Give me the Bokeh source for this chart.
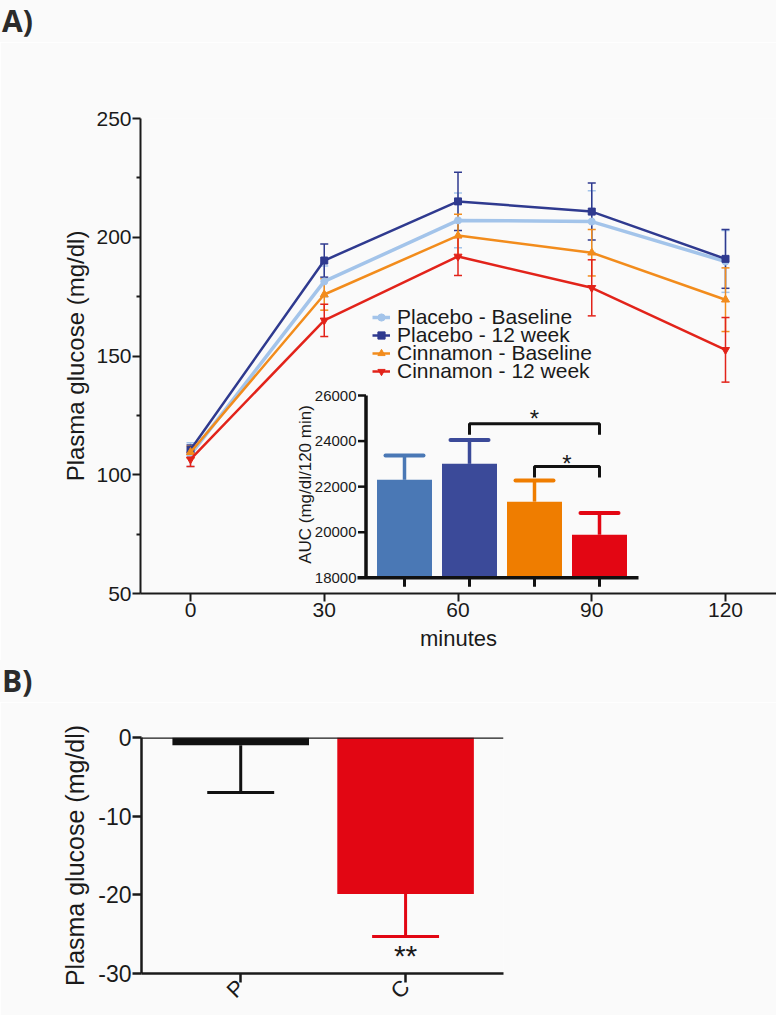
import math
from bokeh.plotting import figure
from bokeh.models import (ColumnDataSource, Range1d, Whisker, TeeHead, Legend,
                          LegendItem, Span, FixedTicker, Div)
from bokeh.layouts import column
from bokeh.core.properties import value
from bokeh.embed import file_html
from bokeh.resources import INLINE

# ---------------- data ----------------
minutes = [0, 30, 60, 90, 120]
series_names = ["Placebo - Baseline", "Placebo - 12 week",
                "Cinnamon - Baseline", "Cinnamon - 12 week"]
placebo_base = [108.5, 181.4, 207.1, 206.6, 189.8]
placebo_base_sem = [5.0, 6.5, 11.5, 13.0, 13.0]
placebo_12 = [110.5, 190.2, 215.1, 210.8, 190.9]
placebo_12_sem = [2.0, 7.0, 12.3, 12.0, 12.4]
cinnamon_base = [109.5, 175.9, 200.7, 193.5, 173.7]
cinnamon_base_sem = [2.5, 6.6, 9.0, 9.8, 13.4]
cinnamon_12 = [106.5, 165.0, 191.9, 178.7, 152.6]
cinnamon_12_sem = [3.0, 6.8, 8.0, 11.8, 13.6]

main_y_ticks = [50, 100, 150, 200, 250]
main_y_minor = [75, 125, 175, 225]

auc_groups = ["Placebo - Baseline", "Placebo - 12 week",
              "Cinnamon - Baseline", "Cinnamon - 12 week"]
auc_mean = [22300, 23000, 21340, 19890]
auc_sem = [1070, 1050, 930, 950]
auc_ticks = [18000, 20000, 22000, 24000, 26000]

change_groups = ["P", "C"]
change_mean = [-1.0, -19.9]
change_sem = [6.0, 5.4]
change_ticks = [-30, -20, -10, 0]

# ---------------- styles ----------------
FONT = "Liberation Sans"
INK = "#1a1a1a"
BG = "#fafafa"
line_colors = ["#a3c4ea", "#2f3a8f", "#f28c1c", "#e2231a"]
markers = ["circle", "square", "triangle", "inverted_triangle"]
marker_sizes = [7, 7, 8, 8]
line_widths = [3.5, 2.5, 2.5, 2.5]
bar_colors = ["#4a78b5", "#3b4a99", "#ef7d00", "#e30613"]
change_colors = ["#111111", "#e20613"]

PANEL_LABEL_STYLE = {"font-family": "Open Sans", "font-weight": "bold",
                     "font-size": "30px", "color": "#2b2b2b", "line-height": "normal",
                     "padding-left": "2px", "background-color": BG}

FIG_W = 776
HEAD_H = 42

# ---------------- panel A geometry (page px) ----------------
A_TOP = HEAD_H
A_H = 660 - HEAD_H
FR_L, FR_R, FR_T, FR_B = 140, 776, 118, 593
X0_PX, X120_PX = 190, 725
pxmin = (X120_PX - X0_PX) / 120.0
xa0 = -(X0_PX - FR_L) / pxmin
xa1 = 120 + (FR_R - X120_PX) / pxmin

divA = Div(text="A)", width=FIG_W, height=HEAD_H, margin=(0, 0, 0, 0),
           styles=PANEL_LABEL_STYLE)

p1 = figure(width=FIG_W, height=A_H, output_backend="svg", toolbar_location=None,
            x_range=Range1d(xa0, xa1), y_range=Range1d(50, 250),
            min_border_left=FR_L, min_border_right=FIG_W - FR_R,
            min_border_top=FR_T - A_TOP, min_border_bottom=A_TOP + A_H - FR_B,
            background_fill_color=BG, border_fill_color=BG)
p1.frame_align = False
p1.outline_line_color = None
p1.grid.visible = False

for ax in (p1.xaxis[0], p1.yaxis[0]):
    ax.axis_line_width = 2
    ax.axis_line_color = INK
    ax.major_tick_line_width = 2
    ax.major_tick_line_color = INK
    ax.minor_tick_line_width = 2
    ax.minor_tick_line_color = INK
    ax.major_tick_in = 0
    ax.major_tick_out = 8
    ax.minor_tick_in = 0
    ax.minor_tick_out = 4
    ax.major_label_text_font = FONT
    ax.major_label_text_font_size = "21px"
    ax.major_label_text_color = INK
    ax.major_label_standoff = 1
    ax.axis_label_text_font = FONT
    ax.axis_label_text_font_style = "normal"
    ax.axis_label_text_color = INK

p1.yaxis.ticker = FixedTicker(ticks=main_y_ticks, minor_ticks=main_y_minor)
p1.xaxis.ticker = FixedTicker(ticks=minutes)
p1.yaxis.axis_label = "Plasma glucose (mg/dl)"
p1.yaxis.axis_label_text_font_size = "24px"
p1.yaxis.axis_label_standoff = 4
p1.xaxis.axis_label = "minutes"
p1.xaxis.axis_label_text_font_size = "22px"
p1.xaxis.axis_label_standoff = 6

all_means = [placebo_base, placebo_12, cinnamon_base, cinnamon_12]
all_sems = [placebo_base_sem, placebo_12_sem, cinnamon_base_sem, cinnamon_12_sem]
legend_rows_px = [316.7, 334.5, 352.7, 371.0]   # legend row centres (page px)
for k, (name, m, s, c, mk, ms, lw) in enumerate(zip(series_names, all_means, all_sems,
                                                    line_colors, markers, marker_sizes,
                                                    line_widths)):
    src = ColumnDataSource(dict(x=minutes, y=m,
                                upper=[a + b for a, b in zip(m, s)],
                                lower=[a - b for a, b in zip(m, s)]))
    w = Whisker(base="x", upper="upper", lower="lower", source=src,
                line_color=c, line_width=1.5,
                upper_head=TeeHead(size=8, line_color=c, line_width=1.5),
                lower_head=TeeHead(size=8, line_color=c, line_width=1.5))
    p1.add_layout(w)
    lr = p1.line("x", "y", source=src, line_color=c, line_width=lw)
    sr = p1.scatter("x", "y", source=src, marker=mk, size=ms,
                    fill_color=c, line_color=c)
    leg = Legend(items=[LegendItem(label=name, renderers=[lr, sr])],
                 location=(372 - FR_L, FR_B - (legend_rows_px[k] + 12)),
                 orientation="vertical", glyph_width=18, glyph_height=18,
                 label_height=18, label_standoff=7, spacing=0, padding=0, margin=0,
                 border_line_color=None, background_fill_alpha=0,
                 label_text_font=FONT, label_text_font_size="21px",
                 label_text_color=INK)
    p1.add_layout(leg)

# ---------------- inset (AUC) drawn in extra ranges ----------------
IN_BAR0 = 404.0      # px of first bar centre
IN_STEP = 65.0       # px between bars
IN_Y18 = 577.3       # px of 18000
IN_Y26 = 395.0       # px of 26000
upp = 8000.0 / (IN_Y18 - IN_Y26)   # AUC units per px
ix0 = (FR_L - IN_BAR0) / IN_STEP
ix1 = (FR_R - IN_BAR0) / IN_STEP
iy0 = 18000 - (FR_B - IN_Y18) * upp
iy1 = 18000 + (IN_Y18 - FR_T) * upp
p1.extra_x_ranges = {"ix": Range1d(ix0, ix1)}
p1.extra_y_ranges = {"iy": Range1d(iy0, iy1)}
R = dict(x_range_name="ix", y_range_name="iy")

idx = list(range(len(auc_groups)))
base_auc = auc_ticks[0]
p1.vbar(x=idx, top=auc_mean, bottom=base_auc, width=55 / IN_STEP,
        fill_color=bar_colors, line_color=None, **R)
p1.segment(x0=idx, y0=auc_mean, x1=idx, y1=[a + b for a, b in zip(auc_mean, auc_sem)],
           line_color=bar_colors, line_width=3.5, **R)
cap = 19 / IN_STEP
p1.segment(x0=[i - cap for i in idx], y0=[a + b for a, b in zip(auc_mean, auc_sem)],
           x1=[i + cap for i in idx], y1=[a + b for a, b in zip(auc_mean, auc_sem)],
           line_color=bar_colors, line_width=4, line_cap="round", **R)

ax_x = (365.5 - IN_BAR0) / IN_STEP
tick_dx = 8 / IN_STEP
p1.segment(x0=[ax_x], y0=[auc_ticks[0]], x1=[ax_x], y1=[auc_ticks[-1]],
           line_color="#111111", line_width=3.5, **R)
p1.segment(x0=[ax_x] * len(auc_ticks), y0=auc_ticks,
           x1=[ax_x - tick_dx] * len(auc_ticks), y1=auc_ticks,
           line_color="#111111", line_width=2.5, **R)
p1.text(x=[ax_x - 9.5 / IN_STEP] * len(auc_ticks), y=auc_ticks,
        text=[str(t) for t in auc_ticks], text_align="right", text_baseline="middle",
        text_font=value(FONT), text_font_size="15px", text_color=INK, **R)
p1.segment(x0=[(357 - IN_BAR0) / IN_STEP], y0=[base_auc], x1=[(638 - IN_BAR0) / IN_STEP],
           y1=[base_auc], line_color="#111111", line_width=3.5, **R)
p1.segment(x0=idx, y0=[base_auc] * 4, x1=idx, y1=[base_auc - 9 * upp] * 4,
           line_color="#111111", line_width=3, **R)
p1.text(x=[(305 - IN_BAR0) / IN_STEP], y=[18000 + (IN_Y18 - 484) * upp],
        text=["AUC (mg/dl/120 min)"], angle=math.pi / 2, text_align="center",
        text_baseline="middle", text_font=value(FONT), text_font_size="17px",
        text_color=INK, **R)

# significance brackets
def bracket(i0, i1, y_top, drop, star_x, star_y):
    p1.line(x=[i0, i0, i1, i1], y=[y_top - drop, y_top, y_top, y_top - drop],
            line_color="#111111", line_width=3, **R)
    p1.text(x=[star_x], y=[star_y], text=["*"], text_align="center",
            text_baseline="top", text_font=value(FONT), text_font_size="24px",
            text_color=INK, **R)

bracket(1, 3, 18000 + (IN_Y18 - 423.3) * upp, 11 * upp, 2.0,
        18000 + (IN_Y18 - 404.6) * upp)
bracket(2, 3, 18000 + (IN_Y18 - 466) * upp, 11 * upp, 2.5,
        18000 + (IN_Y18 - 449.6) * upp)

# ---------------- panel B ----------------
divB = Div(text="B)", width=FIG_W, height=HEAD_H, margin=(0, 0, 0, 0),
           styles=PANEL_LABEL_STYLE)
B_TOP_PAGE = 660 + HEAD_H
B_H = 1015 - B_TOP_PAGE
B_L, B_R, B_T, B_B = 140.7, 503, 736.7, 977.3
P_PX, C_PX = 240.0, 405.0
ppu = C_PX - P_PX
bx0 = -(P_PX - B_L) / ppu
bx1 = 1 + (B_R - C_PX) / ppu

p2 = figure(width=FIG_W, height=B_H, output_backend="svg", toolbar_location=None,
            x_range=Range1d(bx0, bx1), y_range=Range1d(-30, 0),
            min_border_left=round(B_L), min_border_right=round(FIG_W - B_R),
            min_border_top=round(B_T - B_TOP_PAGE), min_border_bottom=round(1015 - B_B),
            background_fill_color=BG, border_fill_color=BG)
p2.frame_align = False
p2.outline_line_color = None
p2.grid.visible = False
for ax in (p2.xaxis[0], p2.yaxis[0]):
    ax.axis_line_width = 2.5
    ax.axis_line_color = INK
    ax.major_tick_line_width = 2.5
    ax.major_tick_line_color = INK
    ax.major_tick_in = 0
    ax.major_tick_out = 9
    ax.minor_tick_line_color = None
    ax.major_label_text_font = FONT
    ax.major_label_text_font_size = "23px"
    ax.major_label_text_color = INK
    ax.major_label_standoff = 1
    ax.axis_label_text_font = FONT
    ax.axis_label_text_font_style = "normal"
    ax.axis_label_text_color = INK

p2.yaxis.ticker = FixedTicker(ticks=change_ticks)
p2.yaxis.major_label_overrides = {t: str(t) for t in change_ticks}
p2.yaxis.axis_label = "Plasma glucose (mg/dl)"
p2.yaxis.axis_label_text_font_size = "25px"
p2.yaxis.axis_label_standoff = 6
gx = list(range(len(change_groups)))
p2.xaxis.ticker = FixedTicker(ticks=gx)
p2.xaxis.major_label_overrides = {i: g for i, g in zip(gx, change_groups)}
p2.xaxis.major_label_orientation = math.pi / 4
p2.xaxis.major_label_text_font_size = "22px"

p2.vbar(x=gx, top=change_mean, bottom=0, width=136.7 / ppu,
        fill_color=change_colors, line_color=None)
ends = [m - s for m, s in zip(change_mean, change_sem)]
p2.segment(x0=gx, y0=change_mean, x1=gx, y1=ends, line_color=change_colors, line_width=3)
hc = 33.5 / ppu
p2.segment(x0=[g - hc for g in gx], y0=ends, x1=[g + hc for g in gx], y1=ends,
           line_color=change_colors, line_width=3)
p2.add_layout(Span(location=0, dimension="width", line_color=INK, line_width=2.5))
p2.text(x=[1], y=[-25.6], text=["**"], text_align="center", text_baseline="top",
        text_font=value(FONT), text_font_size="30px", text_color=INK)

layout = column(divA, p1, divB, p2, spacing=0)
open("out.html", "w").write(file_html(layout, INLINE))
